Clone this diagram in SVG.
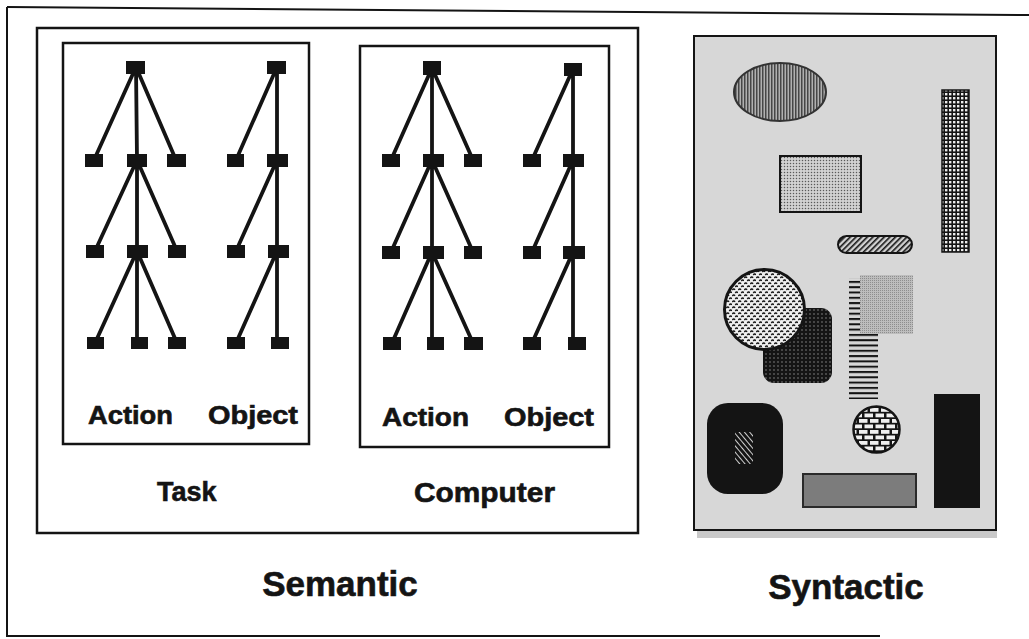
<svg xmlns="http://www.w3.org/2000/svg" width="1029" height="639" viewBox="0 0 1029 639">
  <style>
    .frame { fill: none; stroke: #141414; stroke-width: 2.5; }
    .node { fill: #141414; }
    .edge { stroke: #141414; stroke-width: 3.8; stroke-linecap: butt; fill: none; }
    .lbl { font-family: "Liberation Sans", Arial, Helvetica, sans-serif; font-weight: bold; fill: #141414; stroke: #141414; stroke-width: 0.6; }
    .leaf { font-size: 25px; }
    .sub { font-size: 27px; }
    .big { font-size: 35px; }
  </style>
  <defs>
    <pattern id="vstripes" patternUnits="userSpaceOnUse" width="3" height="10">
      <rect width="3" height="10" fill="#b0b0b0"/>
      <rect width="1.5" height="10" fill="#464646"/>
    </pattern>
    <pattern id="dots" patternUnits="userSpaceOnUse" width="3" height="3">
      <rect width="3" height="3" fill="#d2d2d2"/>
      <circle cx="1.5" cy="1.5" r="0.75" fill="#5a5a5a"/>
    </pattern>
    <pattern id="grid" patternUnits="userSpaceOnUse" width="4" height="4">
      <rect width="4" height="4" fill="#141414"/>
      <rect x="1" y="1" width="2.4" height="2.4" fill="#ececec"/>
    </pattern>
    <pattern id="hatch" patternUnits="userSpaceOnUse" width="4" height="4" patternTransform="rotate(45)">
      <rect width="4" height="4" fill="#d0d0d0"/>
      <rect width="1.6" height="4" fill="#141414"/>
    </pattern>
    <pattern id="whitehatch" patternUnits="userSpaceOnUse" width="4" height="4" patternTransform="rotate(-40)">
      <rect width="4" height="4" fill="#141414"/>
      <rect width="1" height="4" fill="#cfcfcf"/>
    </pattern>
    <pattern id="flecks" patternUnits="userSpaceOnUse" width="6" height="6">
      <rect width="6" height="6" fill="#efefef"/>
      <path d="M0.3 2 q1.3 -1.7 2.8 -0.3" stroke="#141414" stroke-width="1.5" fill="none"/>
      <path d="M3.3 5 q1.3 -1.7 2.8 -0.3" stroke="#141414" stroke-width="1.5" fill="none"/>
    </pattern>
    <pattern id="darkdots" patternUnits="userSpaceOnUse" width="4" height="4">
      <rect width="4" height="4" fill="#141414"/>
      <circle cx="2" cy="2" r="0.7" fill="#9a9a9a"/>
    </pattern>
    <pattern id="mesh" patternUnits="userSpaceOnUse" width="2" height="2">
      <rect width="2" height="2" fill="#bdbdbd"/>
      <rect width="1" height="1" fill="#8e8e8e"/>
    </pattern>
    <pattern id="hlines" patternUnits="userSpaceOnUse" width="10" height="5.3">
      <rect y="0" width="10" height="2" fill="#141414"/>
    </pattern>
    <pattern id="bricks" patternUnits="userSpaceOnUse" width="11" height="11">
      <rect width="11" height="11" fill="#141414"/>
      <rect x="1" y="1" width="8.5" height="3.8" fill="#efefef"/>
      <rect x="-4.5" y="6.5" width="8.5" height="3.8" fill="#efefef"/>
      <rect x="6.5" y="6.5" width="8.5" height="3.8" fill="#efefef"/>
    </pattern>
  </defs>

  <rect width="1029" height="639" fill="#ffffff"/>

  <!-- outer frame: open on the right -->
  <g id="outer-frame" fill="none" stroke="#141414" stroke-width="2">
    <path d="M7 7 L1029 15"/>
    <path d="M7 7 L7 636 L880 636"/>
  </g>

  <!-- semantic level -->
  <g id="semantic">
    <rect class="frame" x="37" y="28" width="601" height="505"/>
    <rect id="task-box" class="frame" x="63" y="43" width="246" height="401"/>
    <rect id="computer-box" class="frame" x="360" y="46" width="249" height="401"/>
  </g>

  <!-- tree connectors -->
  <g id="connectors" class="edge">
    <!-- task / action -->
    <path d="M136 67 L94 160 M136 67 L137 160 M136 67 L176 160"/>
    <path d="M137 160 L95 251 M137 160 L137 251 M137 160 L177 251"/>
    <path d="M137 251 L95 343 M137 251 L137 343 M137 251 L177 343"/>
    <!-- task / object -->
    <path d="M277 67 L236 160 M277 67 L277 160"/>
    <path d="M277 160 L236 251 M277 160 L277 251"/>
    <path d="M277 251 L236 343 M277 251 L277 343"/>
    <!-- computer / action -->
    <path d="M432 68 L391 160 M432 68 L432 160 M432 68 L473 160"/>
    <path d="M432 160 L391 252 M432 160 L432 252 M432 160 L473 252"/>
    <path d="M432 252 L392 343 M432 252 L432 343 M432 252 L473 343"/>
    <!-- computer / object -->
    <path d="M573 69 L532 160 M573 69 L573 160"/>
    <path d="M573 160 L532 252 M573 160 L573 252"/>
    <path d="M573 252 L532 343 M573 252 L573 343"/>
  </g>

  <!-- tree nodes -->
  <g id="task-action-tree">
    <g id="ta-0"><rect class="node" x="126" y="61" width="19" height="13"/></g>
    <g id="ta-1l"><rect class="node" x="85" y="154" width="18" height="13"/></g>
    <g id="ta-1m"><rect class="node" x="127" y="154" width="20" height="13"/></g>
    <g id="ta-1r"><rect class="node" x="167" y="154" width="19" height="13"/></g>
    <g id="ta-2l"><rect class="node" x="86" y="245" width="18" height="13"/></g>
    <g id="ta-2m"><rect class="node" x="127" y="245" width="21" height="13"/></g>
    <g id="ta-2r"><rect class="node" x="168" y="245" width="18" height="13"/></g>
    <g id="ta-3l"><rect class="node" x="87" y="337" width="17" height="12"/></g>
    <g id="ta-3m"><rect class="node" x="131" y="337" width="17" height="12"/></g>
    <g id="ta-3r"><rect class="node" x="168" y="337" width="18" height="12"/></g>
  </g>
  <g id="task-object-tree">
    <g id="to-0"><rect class="node" x="267" y="61" width="19" height="13"/></g>
    <g id="to-1l"><rect class="node" x="227" y="154" width="17" height="13"/></g>
    <g id="to-1r"><rect class="node" x="267" y="154" width="21" height="13"/></g>
    <g id="to-2l"><rect class="node" x="227" y="245" width="18" height="13"/></g>
    <g id="to-2r"><rect class="node" x="268" y="245" width="21" height="13"/></g>
    <g id="to-3l"><rect class="node" x="227" y="337" width="18" height="12"/></g>
    <g id="to-3r"><rect class="node" x="271" y="337" width="18" height="12"/></g>
  </g>
  <g id="computer-action-tree">
    <g id="ca-0"><rect class="node" x="423" y="61" width="18" height="14"/></g>
    <g id="ca-1l"><rect class="node" x="382" y="154" width="18" height="13"/></g>
    <g id="ca-1m"><rect class="node" x="423" y="154" width="21" height="13"/></g>
    <g id="ca-1r"><rect class="node" x="464" y="154" width="18" height="13"/></g>
    <g id="ca-2l"><rect class="node" x="382" y="246" width="18" height="13"/></g>
    <g id="ca-2m"><rect class="node" x="423" y="246" width="21" height="13"/></g>
    <g id="ca-2r"><rect class="node" x="464" y="246" width="18" height="13"/></g>
    <g id="ca-3l"><rect class="node" x="383" y="337" width="18" height="13"/></g>
    <g id="ca-3m"><rect class="node" x="427" y="337" width="17" height="13"/></g>
    <g id="ca-3r"><rect class="node" x="464" y="337" width="19" height="13"/></g>
  </g>
  <g id="computer-object-tree">
    <g id="co-0"><rect class="node" x="564" y="63" width="18" height="13"/></g>
    <g id="co-1l"><rect class="node" x="523" y="154" width="18" height="13"/></g>
    <g id="co-1r"><rect class="node" x="563" y="154" width="21" height="13"/></g>
    <g id="co-2l"><rect class="node" x="523" y="246" width="18" height="13"/></g>
    <g id="co-2r"><rect class="node" x="563" y="246" width="22" height="13"/></g>
    <g id="co-3l"><rect class="node" x="523" y="337" width="18" height="13"/></g>
    <g id="co-3r"><rect class="node" x="568" y="337" width="18" height="13"/></g>
  </g>

  <!-- labels -->
  <g id="labels" class="lbl">
    <text class="leaf" x="88" y="424" textLength="85" lengthAdjust="spacingAndGlyphs">Action</text>
    <text class="leaf" x="208" y="424" textLength="90" lengthAdjust="spacingAndGlyphs">Object</text>
    <text class="leaf" x="382" y="426" textLength="87" lengthAdjust="spacingAndGlyphs">Action</text>
    <text class="leaf" x="504" y="426" textLength="90" lengthAdjust="spacingAndGlyphs">Object</text>
    <text class="sub" x="157" y="501">Task</text>
    <text class="sub" x="414" y="502" textLength="141" lengthAdjust="spacingAndGlyphs">Computer</text>
    <text class="big" x="340" y="596" text-anchor="middle">Semantic</text>
    <text class="big" x="846" y="599" text-anchor="middle">Syntactic</text>
  </g>

  <!-- syntactic level: a screen of patterned shapes -->
  <g id="syntactic">
    <rect x="697" y="530" width="300" height="8" fill="#c9c9c9"/>
    <rect x="694" y="36" width="302" height="494" fill="#d7d7d7" stroke="#141414" stroke-width="2"/>

    <ellipse id="striped-ellipse" cx="780" cy="92" rx="46" ry="29" fill="url(#vstripes)" stroke="#333333" stroke-width="2"/>
    <rect id="dotted-rect" x="780" y="156" width="81" height="56" fill="url(#dots)" stroke="#141414" stroke-width="2"/>
    <rect id="grid-bar" x="942" y="90" width="27" height="162" fill="url(#grid)" stroke="#141414" stroke-width="1.5"/>
    <rect id="hatched-pill" x="838" y="236" width="74" height="17" rx="8.5" fill="url(#hatch)" stroke="#141414" stroke-width="2"/>

    <rect id="dark-square" x="763" y="308" width="69" height="75" rx="11" fill="url(#darkdots)"/>
    <circle id="fleck-circle" cx="764.5" cy="309.5" r="40" fill="url(#flecks)" stroke="#141414" stroke-width="3"/>

    <rect id="line-block" x="849" y="278" width="29" height="121" fill="url(#hlines)"/>
    <rect id="mesh-square" x="860" y="275" width="53" height="59" fill="url(#mesh)"/>

    <g id="black-rounded">
      <rect x="707" y="403" width="76" height="91" rx="21" fill="#141414"/>
      <rect x="735" y="432" width="18" height="32" fill="url(#whitehatch)"/>
    </g>
    <circle id="brick-circle" cx="876.5" cy="429.5" r="23" fill="url(#bricks)" stroke="#141414" stroke-width="2.5"/>
    <rect id="grey-bar" x="803" y="474" width="113" height="33" fill="#7c7c7c" stroke="#2a2a2a" stroke-width="2"/>
    <rect id="black-bar" x="934" y="394" width="46" height="114" fill="#141414"/>
  </g>
</svg>
